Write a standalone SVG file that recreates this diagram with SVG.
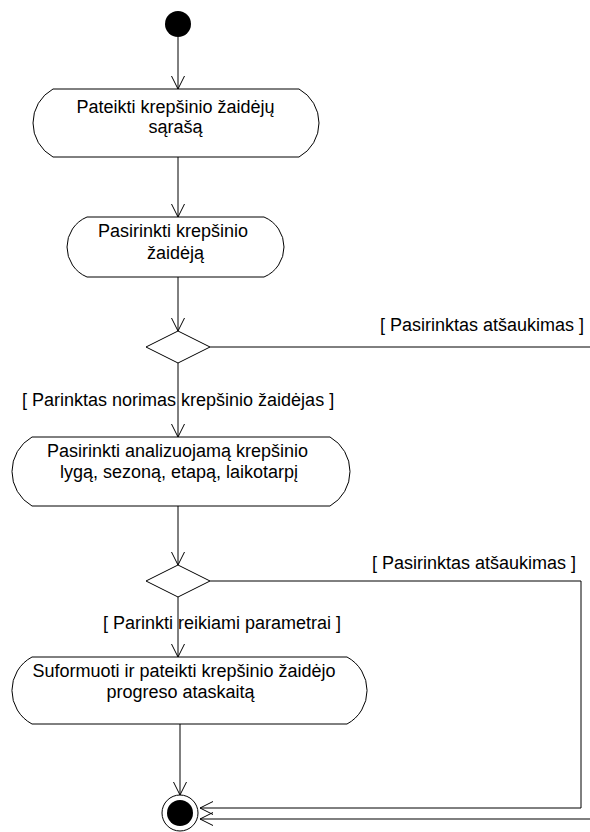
<svg xmlns="http://www.w3.org/2000/svg" width="590" height="832" viewBox="0 0 590 832">
  <style>
    .act { fill: #fff; stroke: #000; stroke-width: 1; }
    .dec { fill: #fff; stroke: #000; stroke-width: 1; }
    .edge { fill: none; stroke: #000; stroke-width: 1; }
    text { font-family: "Liberation Sans", Arial, sans-serif; font-size: 18px; fill: #000; }
    .c { text-anchor: middle; }
  </style>
  <defs>
    <marker id="open" markerUnits="userSpaceOnUse" markerWidth="16" markerHeight="16" viewBox="-14 -8 16 16" refX="0" refY="0" orient="auto">
      <path d="M-13,-6.5 L0,0 L-13,6.5" fill="none" stroke="#000" stroke-width="1"/>
    </marker>
  </defs>

  <rect width="590" height="832" fill="#fff"/>

  <!-- connectors -->
  <g id="edges">
    <path class="edge" d="M178,37 V89" marker-end="url(#open)"/>
    <path class="edge" d="M178,157 V217" marker-end="url(#open)"/>
    <path class="edge" d="M178,277 V331" marker-end="url(#open)"/>
    <path class="edge" d="M178,363 V437" marker-end="url(#open)"/>
    <path class="edge" d="M178,506 V565" marker-end="url(#open)"/>
    <path class="edge" d="M178,597 V657" marker-end="url(#open)"/>
    <path class="edge" d="M180,724 V795" marker-end="url(#open)"/>
    <path class="edge" d="M210,347 H600 V819 H200" marker-end="url(#open)"/>
    <path class="edge" d="M210,581 H581 V808 H200" marker-end="url(#open)"/>
    <text x="380" y="331">[ Pasirinktas atšaukimas ]</text>
    <text x="22" y="406">[ Parinktas norimas krepšinio žaidėjas ]</text>
    <text x="372" y="569">[ Pasirinktas atšaukimas ]</text>
    <text x="103" y="629">[ Parinkti reikiami parametrai ]</text>
  </g>

  <!-- start -->
  <g id="start">
    <circle cx="178" cy="24" r="13" fill="#000"/>
  </g>

  <g id="a1">
    <path class="act" d="M53,89 H299 A38.9,38.9 0 0 1 299,157 H53 A38.9,38.9 0 0 1 53,89 Z"/>
    <text class="c" x="175.5" y="113">Pateikti krepšinio žaidėjų</text>
    <text class="c" x="175.5" y="133">sąrašą</text>
  </g>

  <g id="a2">
    <path class="act" d="M87,217 H264 A32.5,32.5 0 0 1 264,277 H87 A32.5,32.5 0 0 1 87,217 Z"/>
    <text class="c" x="173" y="237">Pasirinkti krepšinio</text>
    <text class="c" x="175.5" y="259">žaidėją</text>
  </g>

  <g id="d1">
    <path class="dec" d="M178,331 L210,347 L178,363 L146,347 Z"/>
  </g>

  <g id="a3">
    <path class="act" d="M32,437 H330 A39.75,39.75 0 0 1 330,506 H32 A39.75,39.75 0 0 1 32,437 Z"/>
    <text class="c" x="177.5" y="457">Pasirinkti analizuojamą krepšinio</text>
    <text class="c" x="179" y="478">lygą, sezoną, etapą, laikotarpį</text>
  </g>

  <g id="d2">
    <path class="dec" d="M178,565 L210,581 L178,597 L146,581 Z"/>
  </g>

  <g id="a4">
    <path class="act" d="M32,657 H347 A38,38 0 0 1 347,724 H32 A38,38 0 0 1 32,657 Z"/>
    <text class="c" x="184" y="677">Suformuoti ir pateikti krepšinio žaidėjo</text>
    <text class="c" x="180.5" y="698">progreso ataskaitą</text>
  </g>

  <!-- end -->
  <g id="end">
    <circle cx="180" cy="813" r="18" fill="#fff" stroke="#000" stroke-width="1"/>
    <circle cx="180" cy="813" r="13" fill="#000"/>
  </g>
</svg>
